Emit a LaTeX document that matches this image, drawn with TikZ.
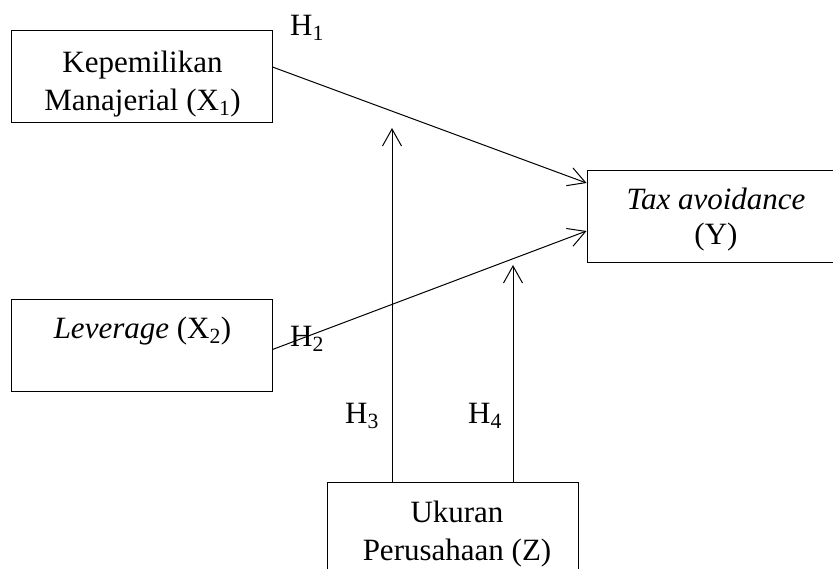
\documentclass[tikz,border=0pt]{standalone}
\usepackage{fontspec}
\setmainfont{Liberation Serif}
\usetikzlibrary{arrows.meta}
\tikzset{
  varbox/.style={draw, line width=1pt, inner sep=0pt},
  txt/.style={inner sep=0pt, anchor=base, font=\fontsize{31}{36}\selectfont},
  hlabel/.style={inner sep=0pt, anchor=base west, font=\fontsize{31}{36}\selectfont},
  link/.style={line width=1pt, -{Straight Barb[length=17pt,width=19pt,line width=1pt]}}
}
\begin{document}
\begin{tikzpicture}[x=1pt,y=-1pt]
\useasboundingbox (0,0) rectangle (833,568);
% boxes
\node[varbox, minimum width=261pt, minimum height=92pt] (x1) at (141.5,76) {};
\node[varbox, minimum width=261pt, minimum height=92pt] (x2) at (141.5,345.5) {};
\node[varbox, minimum width=258pt, minimum height=92pt] (y) at (716,216) {};
\node[varbox, minimum width=251pt, minimum height=92pt] (z) at (452.5,528) {};
% box texts
\node[txt] (x1a) at (142.5,72) {Kepemilikan};
\node[txt] (x1b) at (142.5,110) {Manajerial (X\textsubscript{1})};
\node[txt] (x2a) at (142.5,338) {\textit{Leverage} (X\textsubscript{2})};
\node[txt] (ya) at (716,209) {\textit{Tax avoidance}};
\node[txt] (yb) at (716,244) {(Y)};
\node[txt] (za) at (457,522) {Ukuran};
\node[txt] (zb) at (457,560) {Perusahaan (Z)};
% connectors
\coordinate (h3top) at (392,128);
\coordinate (h4top) at (513,265);
\draw[link] ([yshift=9pt]x1.east) -- ([yshift=33pt]y.west);
\draw[link] ([yshift=-4pt]x2.east) -- ([yshift=-15pt]y.west);
\draw[link] ([xshift=-60.5pt]z.north) -- (h3top);
\draw[link] ([xshift=60.5pt]z.north) -- (h4top);
% hypothesis labels
\node[hlabel] (h1) at (290,35) {H\textsubscript{1}};
\node[hlabel] (h2) at (290,346) {H\textsubscript{2}};
\node[hlabel] (h3) at (345,423) {H\textsubscript{3}};
\node[hlabel] (h4) at (468,423) {H\textsubscript{4}};
\end{tikzpicture}
\end{document}
